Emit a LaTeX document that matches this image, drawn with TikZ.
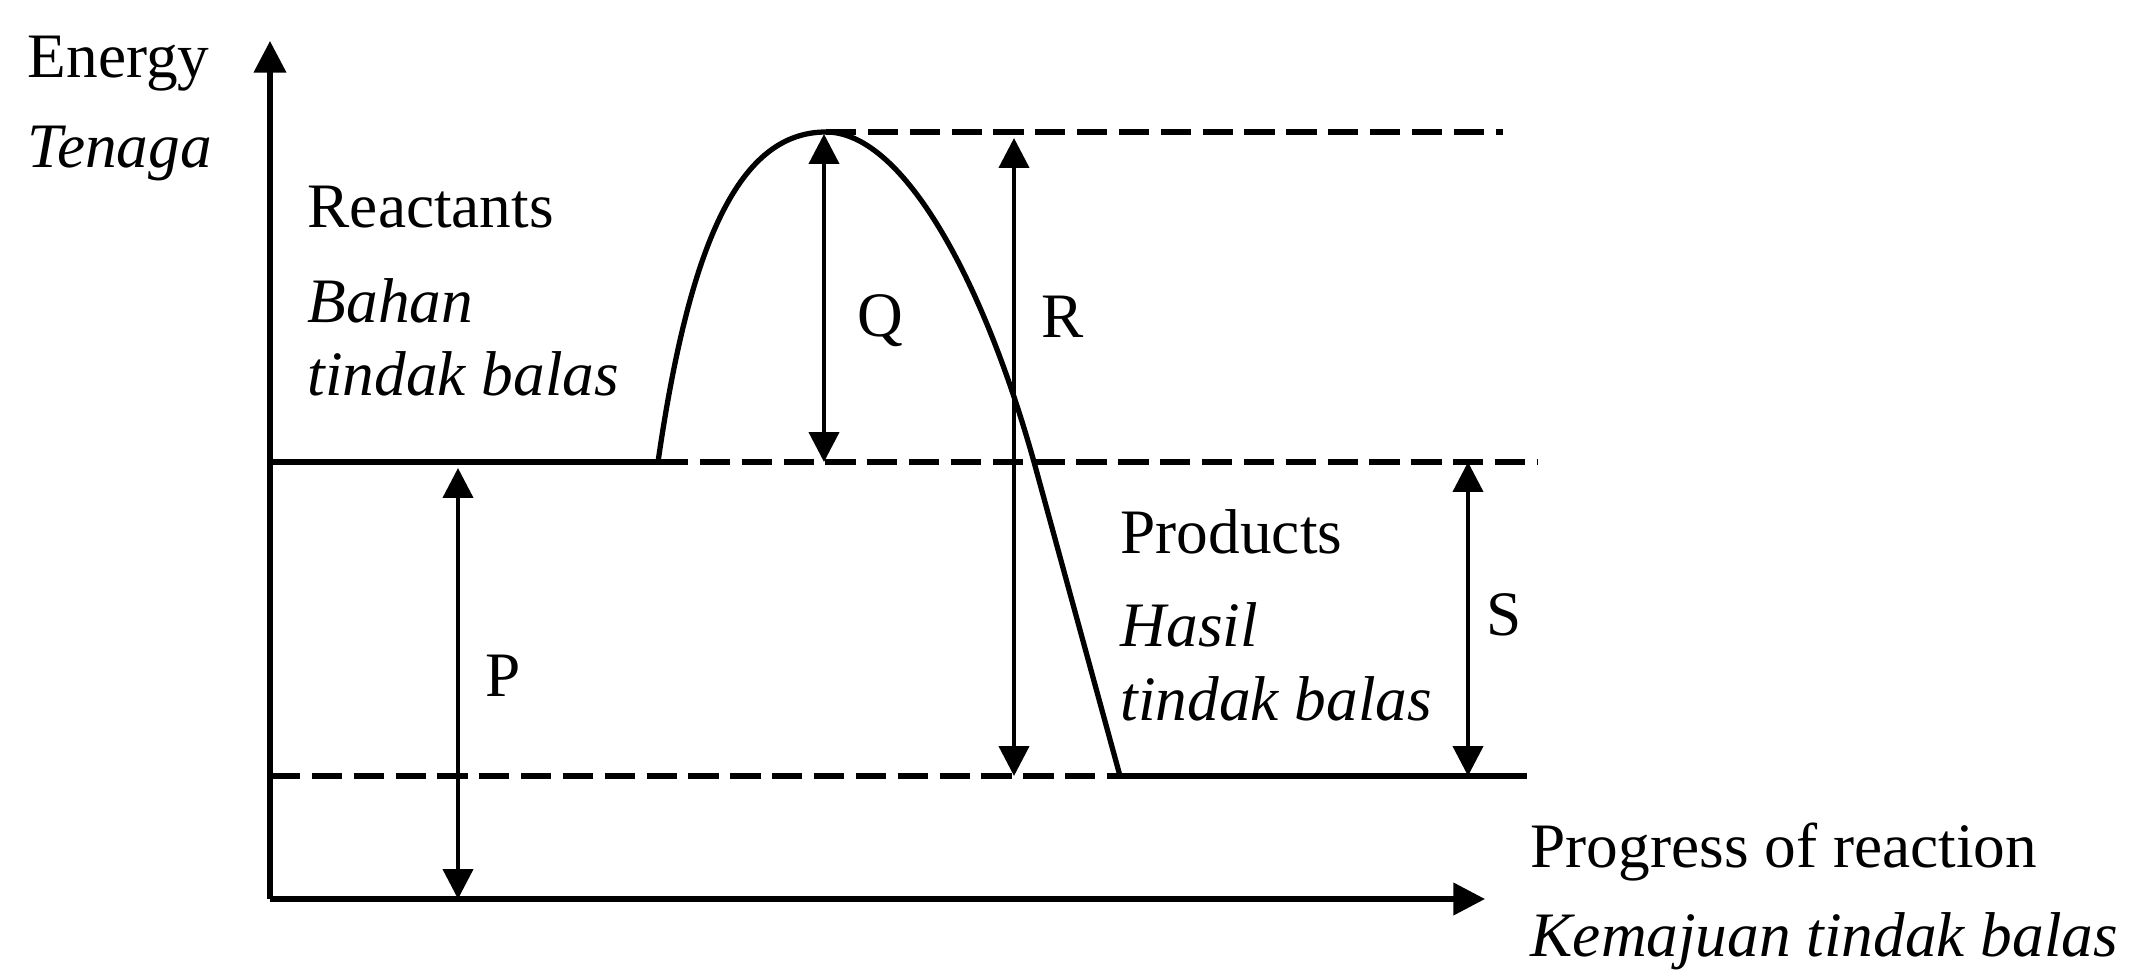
\documentclass[tikz,border=0pt]{standalone}
\usepackage{fontspec}
\setmainfont{Liberation Serif}
\usetikzlibrary{arrows.meta, positioning}

\begin{document}
\begin{tikzpicture}[x=0.01cm, y=-0.01cm,
    curve/.style={line width=1.5pt},
    level/.style={line width=1.5pt, dash pattern=on 8.6pt off 3.3pt},
    axis/.style={line width=1.5pt, -{Triangle[length=9pt, width=9pt]}},
    gap/.style={line width=1.2pt, {Triangle[length=8.5pt, width=8.5pt]}-{Triangle[length=8.5pt, width=8.5pt]}},
    lbl/.style={inner sep=0pt, anchor=base west, font=\fontsize{18}{22}\selectfont},
    ilbl/.style={lbl, font=\fontsize{18}{22}\selectfont\itshape},
    sym/.style={inner sep=0pt, font=\fontsize{18}{22}\selectfont}
]
    \useasboundingbox (0,0) rectangle (2142,973);

    % axes
    \coordinate (origin) at (270,899);
    \coordinate (ytop) at (270,41);
    \coordinate (xend) at (1485,899);
    \draw[axis] (origin) -- (ytop);
    \draw[axis] (origin) -- (xend);

    % energy levels
    \coordinate (rleft) at (270,462);
    \coordinate (rstart) at (658,462);
    \coordinate (rend) at (1537,462);
    \coordinate (peak) at (826,132);
    \coordinate (peakend) at (1503,132);
    \coordinate (pleft) at (270,776);
    \coordinate (pstart) at (1120,776);
    \coordinate (pend) at (1527,776);
    \coordinate (pcross) at (1034,462);
    \draw[curve] (rleft) -- (rstart);
    \draw[level] (rstart) -- (rend);
    \draw[level] (peak) -- (peakend);
    \draw[level] (pleft) -- (pstart);
    \draw[curve] (pstart) -- (pend);

    % reaction curve
    \draw[curve] (rstart) .. controls (690,240) and (740,132) .. (peak)
        .. controls (900,132) and (980,270) .. (pcross) -- (pstart);

    % energy gaps
    \coordinate (qtop) at (824,134);
    \coordinate (qbot) at (824,462);
    \coordinate (rtop) at (1014,138);
    \coordinate (rbot) at (1014,776);
    \coordinate (stop) at (1468,462);
    \coordinate (sbot) at (1468,776);
    \coordinate (ptop) at (458,468);
    \coordinate (pbot) at (458,899);
    \draw[gap] (qtop) -- (qbot);
    \draw[gap] (rtop) -- (rbot);
    \draw[gap] (stop) -- (sbot);
    \draw[gap] (ptop) -- (pbot);

    \node[sym] (qlabel) at (880,321) {Q};
    \node[sym] (rlabel) at (1063,317) {R};
    \node[sym] (slabel) at (1504,615) {S};
    \node[sym] (plabel) at (503,676) {P};

    % labels
    \node[lbl] (energy) at (27,78) {Energy};
    \node[ilbl] (tenaga) at (27,168) {Tenaga};
    \node[lbl] (reactants) at (307,228) {Reactants};
    \node[ilbl] (bahan) at (307,322) {Bahan};
    \node[ilbl] (bahan2) at (307,396) {tindak balas};
    \node[lbl] (products) at (1120,553) {Products};
    \node[ilbl] (hasil) at (1120,646) {Hasil};
    \node[ilbl] (hasil2) at (1120,720) {tindak balas};
    \node[lbl] (progress) at (1530,867) {Progress of reaction};
    \node[ilbl] (kemajuan) at (1530,956) {Kemajuan tindak balas};
\end{tikzpicture}
\end{document}
